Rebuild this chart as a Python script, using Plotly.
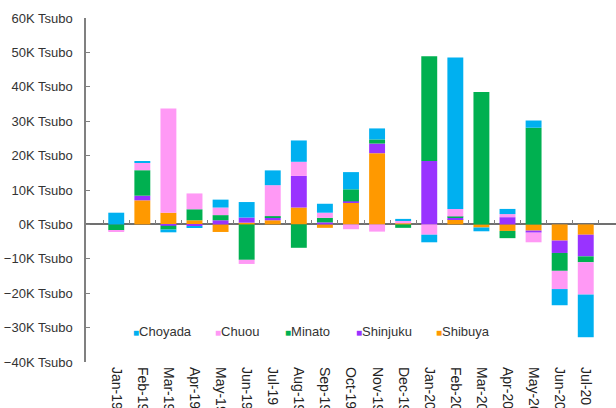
import plotly.graph_objects as go

categories = ["Jan-19", "Feb-19", "Mar-19", "Apr-19", "May-19", "Jun-19", "Jul-19",
              "Aug-19", "Sep-19", "Oct-19", "Nov-19", "Dec-19", "Jan-20", "Feb-20",
              "Mar-20", "Apr-20", "May-20", "Jun-20", "Jul-20"]

# values in thousand Tsubo
shibuya = [0, 7.0, 3.4, 1.2, -2.2, 0.5, 1.2, 4.9, -1.0, 6.3, 20.7, 0.3, 0, 1.5, -0.9, -1.9, -1.8, -4.7, -3.0]
shinjuku = [0, 1.35, -0.4, -0.5, 1.2, 1.5, 0.8, 9.2, 0.6, 0.4, 2.8, 0, 18.4, 0.4, 0, 2.1, -0.6, -3.6, -6.3]
minato = [-1.7, 7.4, -1.1, 3.2, 1.5, -10.3, 0.4, -6.8, 1.3, 3.5, 1.2, -1.0, 30.5, 0.4, 38.5, -2.1, 28.1, -5.2, -1.7]
chuou = [-0.4, 2.1, 30.3, 4.6, 2.2, -1.2, 9.0, 4.1, 1.5, -1.4, -2.1, 0.8, -3.0, 2.2, 0, 0.9, -2.8, -5.3, -9.4]
choyada = [3.4, 0.5, -0.8, -0.5, 2.3, 4.5, 4.3, 6.2, 2.6, 5.0, 3.2, 0.5, -2.2, 44.0, -1.1, 1.5, 2.1, -4.7, -12.4]

tick_values = [-40, -30, -20, -10, 0, 10, 20, 30, 40, 50, 60]
tick_labels = ["\u221240K Tsubo", "\u221230K Tsubo", "\u221220K Tsubo", "\u221210K Tsubo", "0K Tsubo",
               "10K Tsubo", "20K Tsubo", "30K Tsubo", "40K Tsubo", "50K Tsubo", "60K Tsubo"]

series = [
    ("Shibuya", shibuya, "#FF9900"),
    ("Shinjuku", shinjuku, "#9933FF"),
    ("Minato", minato, "#00B050"),
    ("Chuou", chuou, "#FF99F5"),
    ("Choyada", choyada, "#00B0F0"),
]

# legend item left positions (paper fraction), legend order Choyada..Shibuya
legend_x = {"Choyada": 0.085, "Chuou": 0.240, "Minato": 0.372, "Shinjuku": 0.506, "Shibuya": 0.657}

FONT = "Liberation Sans"

fig = go.Figure()
for name, vals, col in series:
    fig.add_trace(go.Bar(x=categories, y=vals, name=name, marker_color=col,
                         marker_line_width=0, showlegend=False))

# helper trace so the zero-line tick axis gets drawn
fig.add_trace(go.Scatter(x=categories, y=[None] * len(categories), xaxis="x2",
                         showlegend=False, hoverinfo="skip"))

annotations = []
for name, vals, col in series:
    annotations.append(dict(
        xref="paper", yref="paper", x=legend_x[name], y=0.090,
        xanchor="left", yanchor="middle", showarrow=False,
        text=f"<span style='color:{col};font-size:10px'>\u25a0</span>{name}",
        font=dict(family=FONT, size=13, color="#333333"),
    ))

fig.update_layout(
    width=616, height=408,
    margin=dict(l=86, r=0, t=18, b=46),
    barmode="relative",
    bargap=0.39,
    plot_bgcolor="white",
    paper_bgcolor="white",
    font=dict(family=FONT, size=13, color="#333333"),
    showlegend=False,
    annotations=annotations,
    xaxis=dict(type="category", tickangle=90, showline=False, ticks="",
               automargin=False, tickfont=dict(family=FONT, size=14, color="#222222"),
               ticklabelstandoff=4, showgrid=False),
    xaxis2=dict(type="category", matches="x", overlaying="x", anchor="free", position=0.4,
                showticklabels=False, ticks="inside", tickson="boundaries", ticklen=4,
                tickcolor="#808080", showline=False, showgrid=False),
    yaxis=dict(range=[-40, 60], tickvals=tick_values, ticktext=tick_labels,
               showline=True, linecolor="#808080", linewidth=1.5,
               ticks="inside", ticklen=4, tickcolor="#808080",
               showgrid=False, zeroline=True, zerolinecolor="#707070", zerolinewidth=1.5,
               automargin=False, ticklabelstandoff=9,
               tickfont=dict(family=FONT, size=13, color="#333333")),
)

fig.write_html("out.html")
